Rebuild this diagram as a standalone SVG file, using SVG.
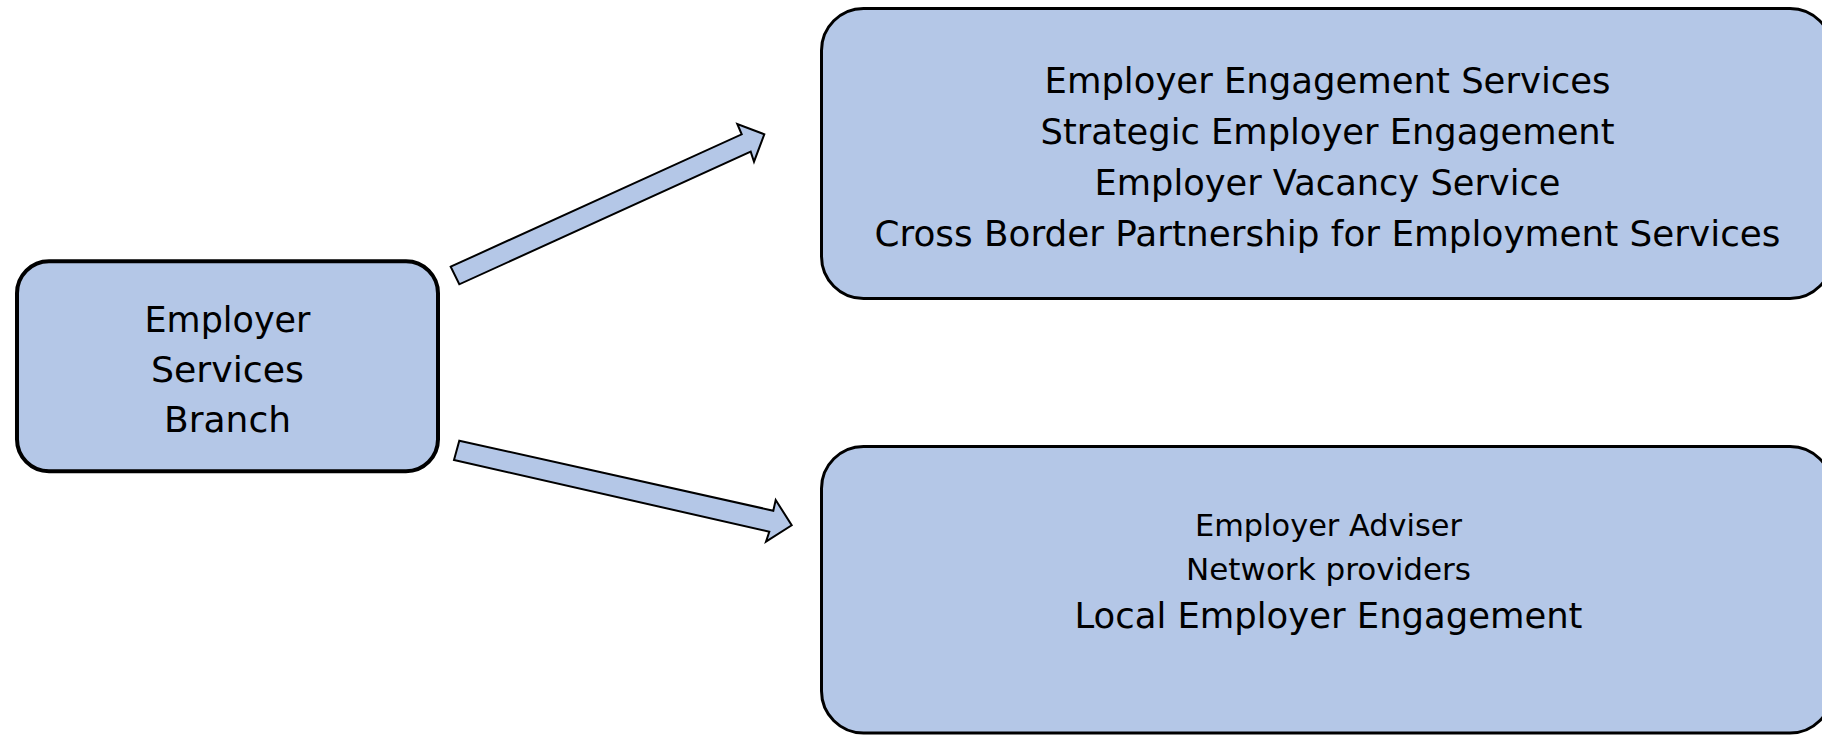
<svg xmlns="http://www.w3.org/2000/svg" width="1822" height="736" viewBox="0 0 1822 736">
<style>
.box{fill:#B4C7E7;stroke:#000;}
.arrow{fill:#B4C7E7;stroke:#000;stroke-width:2;stroke-linejoin:miter;}
text{font-family:"DejaVu Sans","Liberation Sans",sans-serif;fill:#000;text-anchor:middle;}
.big{font-size:35.5px;}
.small{font-size:30.5px;}
</style>
<rect width="1822" height="736" fill="#fff"/>
<g id="connectors">
<polygon class="arrow" points="450.7,266.7 741.7,134.3 737.3,124 764.3,134.3 754,161.7 750.7,151.7 459.3,284.3"/>
<polygon class="arrow" points="459.3,440.7 773.3,510.7 775.7,500 791.7,525.3 766,541.7 769.3,531.7 454,460"/>
</g>
<g id="node-branch">
<rect class="box" x="17" y="261.3" width="421" height="210" rx="32" ry="32" stroke-width="4"/>
<text class="big" x="227.5" y="332" textLength="166" lengthAdjust="spacingAndGlyphs">Employer</text>
<text class="big" x="227.5" y="382" textLength="153" lengthAdjust="spacingAndGlyphs">Services</text>
<text class="big" x="227.5" y="432" textLength="127" lengthAdjust="spacingAndGlyphs">Branch</text>
</g>
<g id="node-engagement">
<rect class="box" x="821.5" y="8.5" width="1010.5" height="290" rx="42" ry="42" stroke-width="3"/>
<text class="big" x="1327.5" y="93" textLength="566" lengthAdjust="spacingAndGlyphs">Employer Engagement Services</text>
<text class="big" x="1327.5" y="144" textLength="574" lengthAdjust="spacingAndGlyphs">Strategic Employer Engagement</text>
<text class="big" x="1327.5" y="195" textLength="466" lengthAdjust="spacingAndGlyphs">Employer Vacancy Service</text>
<text class="big" x="1327.5" y="246" textLength="906" lengthAdjust="spacingAndGlyphs">Cross Border Partnership for Employment Services</text>
</g>
<g id="node-local">
<rect class="box" x="821.5" y="446.5" width="1010.5" height="286.5" rx="42" ry="42" stroke-width="3"/>
<text class="small" x="1328.5" y="535.5" textLength="267" lengthAdjust="spacingAndGlyphs">Employer Adviser</text>
<text class="small" x="1328.5" y="579.5" textLength="285" lengthAdjust="spacingAndGlyphs">Network providers</text>
<text class="big" x="1328.5" y="628" textLength="508" lengthAdjust="spacingAndGlyphs">Local Employer Engagement</text>
</g>
</svg>
